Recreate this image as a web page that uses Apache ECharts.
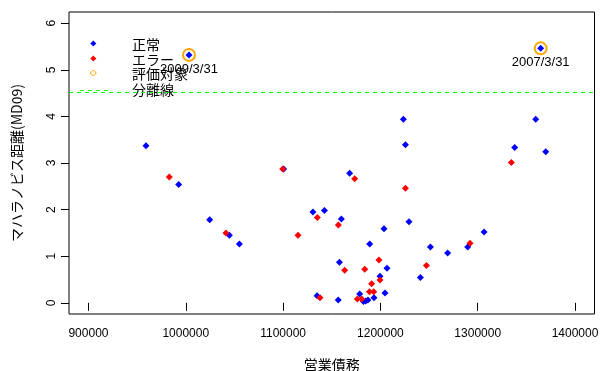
<!DOCTYPE html>
<html>
<head>
<meta charset="utf-8">
<script src="https://cdn.jsdelivr.net/npm/echarts@6/dist/echarts.min.js"></script>
<style>html,body{margin:0;padding:0;background:#fff}#c{width:600px;height:371px}</style>
</head>
<body>
<div id="c"></div>
<script>
// 正常 (normal)
const normalX = [959100, 992700, 1003300, 1024600, 1044800, 1055100, 1100600, 1130700, 1134900, 1142500,
  1156700, 1157900, 1159900, 1168400, 1178700, 1182500, 1184900, 1187200, 1189000, 1193400,
  1199600, 1203700, 1204700, 1206800, 1223600, 1225700, 1229400, 1241100, 1251400, 1269100,
  1289700, 1306500, 1338000, 1359600, 1364700, 1369900];
const normalY = [3.37, 2.54, 5.32, 1.78, 1.45, 1.26, 2.87, 1.95, 0.15, 1.98,
  0.06, 0.87, 1.80, 2.78, 0.19, 0.03, 0.04, 0.06, 1.26, 0.11,
  0.57, 1.59, 0.21, 0.74, 3.94, 3.39, 1.74, 0.545, 1.20, 1.07,
  1.20, 1.52, 3.33, 3.94, 5.46, 3.24];
// エラー (error)
const errorX = [983100, 1041300, 1099600, 1115300, 1135200, 1137900, 1156800, 1163300, 1173600, 1176300,
  1180800, 1183900, 1188700, 1191000, 1193100, 1198500, 1199600, 1225700, 1247300, 1292100, 1334600];
const errorY = [2.70, 1.50, 2.87, 1.45, 1.83, 0.11, 1.67, 0.70, 2.66, 0.08,
  0.08, 0.72, 0.24, 0.41, 0.24, 0.92, 0.49, 2.46, 0.80, 1.28, 3.01];
// 評価対象 (evaluation targets)
const targetX = [1003300, 1364700];
const targetY = [5.32, 5.46];
const targetLabels = ['2009/3/31', '2007/3/31'];
// 分離線 (threshold)
const threshold = 4.52;
// ticks
const xTicks = [900000, 1000000, 1100000, 1200000, 1300000, 1400000];
const yTicks = [0, 1, 2, 3, 4, 5, 6];
const legendLabels = ['正常', 'エラー', '評価対象', '分離線'];

const zip = (xs, ys) => xs.map((x, i) => [x, ys[i]]);
const chart = echarts.init(document.getElementById('c'), null, {renderer: 'canvas'});
const numFont = 'Liberation Sans, Arial, sans-serif';
const cjkFont = 'Noto Sans CJK JP, sans-serif';
const diamond = (cx, cy, r) => [[cx, cy - r], [cx + r, cy], [cx, cy + r], [cx - r, cy]];

chart.setOption({
  animation: false,
  backgroundColor: '#fff',
  grid: {left: 69, right: 5.5, top: 12, bottom: 57, show: true, borderColor: '#000', borderWidth: 1,
    backgroundColor: 'transparent', containLabel: false, outerBoundsMode: 'none'},
  xAxis: {
    type: 'value', min: 880000, max: 1420000,
    name: '営業債務', nameLocation: 'middle', nameGap: 44,
    nameTextStyle: {fontFamily: cjkFont, fontSize: 14, color: '#000'},
    axisLine: {show: false},
    splitLine: {show: false},
    axisTick: {show: true, inside: false, length: 8, lineStyle: {color: '#000'}, customValues: xTicks},
    axisLabel: {customValues: xTicks, margin: 14, fontFamily: numFont, fontSize: 12, color: '#000',
      formatter: v => String(v)}
  },
  yAxis: {
    type: 'value', min: -0.24, max: 6.24,
    name: 'マハラノビス距離(MD09)', nameLocation: 'middle', nameGap: 45,
    nameTextStyle: {fontFamily: cjkFont, fontSize: 14, color: '#000'},
    axisLine: {show: false},
    splitLine: {show: false},
    axisTick: {show: true, inside: false, length: 8, lineStyle: {color: '#000'}, customValues: yTicks},
    axisLabel: {customValues: yTicks, rotate: 90, margin: 11, fontFamily: numFont, fontSize: 12, color: '#000',
      formatter: v => String(v)}
  },
  series: [
    {
      type: 'scatter', name: legendLabels[0], data: zip(normalX, normalY),
      symbol: 'diamond', symbolSize: 7, itemStyle: {color: '#0000ff', opacity: 1}, z: 2,
      markLine: {
        silent: true, symbol: 'none', label: {show: false},
        lineStyle: {color: '#00ff00', type: [4, 4], width: 1, opacity: 1},
        data: [{yAxis: threshold}]
      }
    },
    {
      type: 'scatter', name: legendLabels[1], data: zip(errorX, errorY),
      symbol: 'diamond', symbolSize: 7, itemStyle: {color: '#ff0000', opacity: 1}, z: 3
    },
    {
      type: 'scatter', name: legendLabels[2],
      data: targetX.map((x, i) => ({value: [x, targetY[i]], label: {formatter: targetLabels[i]}})),
      symbol: 'circle', symbolSize: 12, z: 4,
      itemStyle: {color: 'rgba(0,0,0,0)', borderColor: '#ffa500', borderWidth: 2, opacity: 1},
      label: {show: true, position: 'bottom', distance: 1, fontFamily: numFont, fontSize: 13, color: '#000'}
    }
  ],
  graphic: [
    {type: 'polygon', shape: {points: diamond(93.3, 43.5, 3)}, style: {fill: '#0000ff'}},
    {type: 'polygon', shape: {points: diamond(93.3, 58.5, 3)}, style: {fill: '#ff0000'}},
    {type: 'polygon', shape: {points: diamond(93.3, 73, 3)}, style: {fill: 'none', stroke: '#ffa500', lineWidth: 1}},
    {type: 'line', shape: {x1: 80, y1: 90.5, x2: 112, y2: 90.5}, style: {stroke: '#00ff00', lineWidth: 1, lineDash: [4, 4]}},
    {type: 'text', x: 132, y: 45, style: {text: legendLabels[0], font: '14px ' + cjkFont, fill: '#000', verticalAlign: 'middle'}},
    {type: 'text', x: 132, y: 59.5, style: {text: legendLabels[1], font: '14px ' + cjkFont, fill: '#000', verticalAlign: 'middle'}},
    {type: 'text', x: 132, y: 74, style: {text: legendLabels[2], font: '14px ' + cjkFont, fill: '#000', verticalAlign: 'middle'}},
    {type: 'text', x: 132, y: 89.5, style: {text: legendLabels[3], font: '14px ' + cjkFont, fill: '#000', verticalAlign: 'middle'}}
  ]
});
</script>
</body>
</html>
